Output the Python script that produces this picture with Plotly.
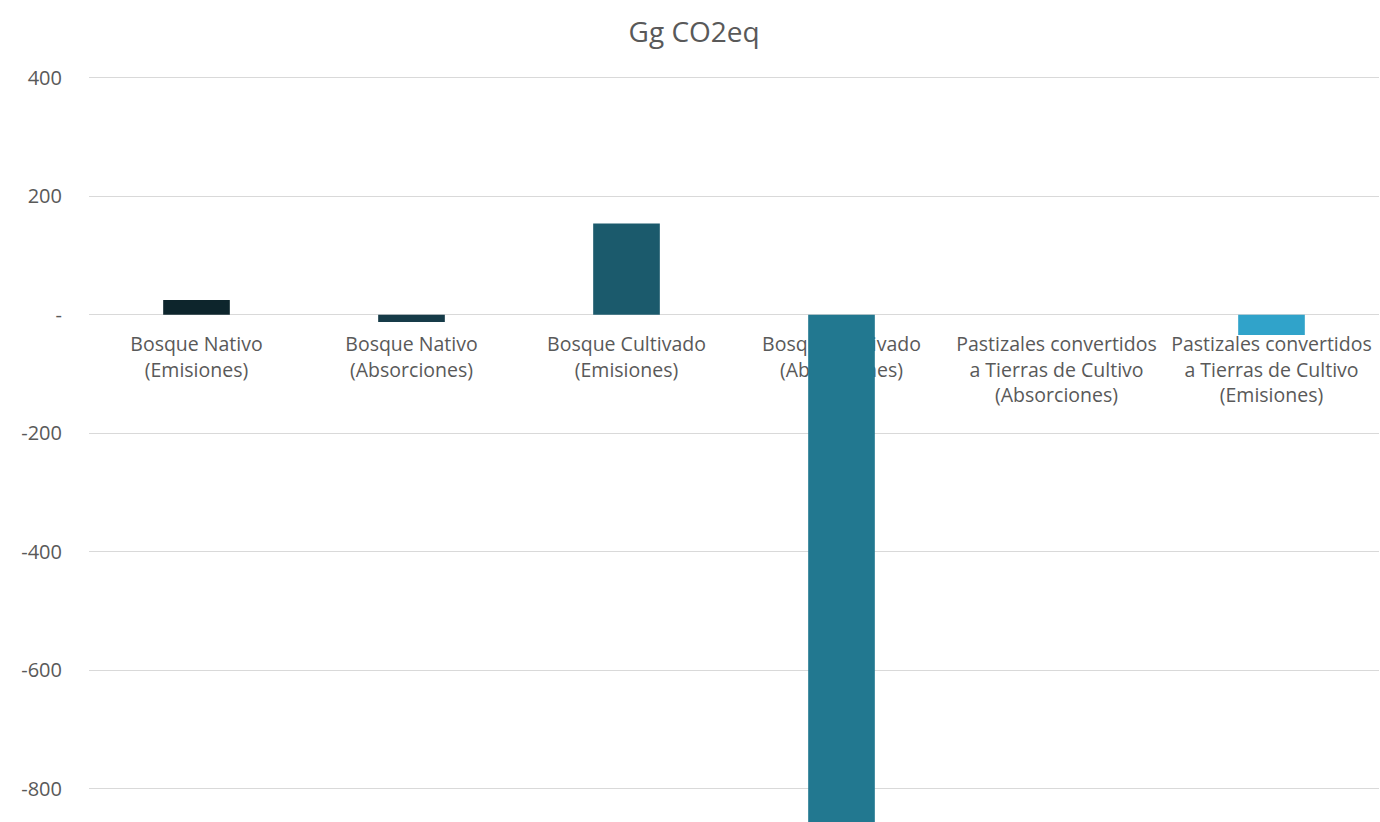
import plotly.graph_objects as go

# Categories (two/three-line labels as shown under the zero line)
categories = [
    "Bosque Nativo<br>(Emisiones)",
    "Bosque Nativo<br>(Absorciones)",
    "Bosque Cultivado<br>(Emisiones)",
    "Bosque Cultivado<br>(Absorciones)",
    "Pastizales convertidos<br>a Tierras de Cultivo<br>(Absorciones)",
    "Pastizales convertidos<br>a Tierras de Cultivo<br>(Emisiones)",
]
values = [25, -12, 154, -1100, 0, -34]
bar_colors = ["#0d252c", "#163b48", "#1b5a6c", "#227890", "#2a8fb0", "#30a3ca"]

y_tickvals = [400, 200, 0, -200, -400, -600, -800]
y_ticktext = ["400", "200", "-", "-200", "-400", "-600", "-800"]

y_min, y_max = -856, 430

fig = go.Figure(
    go.Bar(
        x=categories,
        y=values,
        marker=dict(color=bar_colors, line=dict(width=0)),
        hoverinfo="x+y",
    )
)

text_color = "#595959"
font_family = "Open Sans, Segoe UI, sans-serif"

fig.update_layout(
    width=1380,
    height=822,
    margin=dict(l=89, r=1, t=60, b=0),
    paper_bgcolor="white",
    plot_bgcolor="white",
    showlegend=False,
    bargap=0.69,
    title=dict(
        text="Gg CO2eq",
        x=0.503,
        xref="container",
        xanchor="center",
        y=0.961,
        yref="container",
        yanchor="middle",
        font=dict(family=font_family, size=28, color=text_color),
    ),
    font=dict(family=font_family, color=text_color),
)

# Category axis sits on the zero line, under the bars
zero_pos = (0 - y_min) / (y_max - y_min)
fig.update_xaxes(
    anchor="free",
    position=zero_pos,
    showline=False,
    showgrid=False,
    ticks="",
    layer="below traces",
    tickfont=dict(family=font_family, size=19.5, color=text_color),
    ticklabelstandoff=16,
)

fig.update_yaxes(
    range=[y_min, y_max],
    tickvals=y_tickvals,
    ticktext=y_ticktext,
    showgrid=True,
    gridcolor="#d9d9d9",
    gridwidth=1,
    zeroline=True,
    zerolinecolor="#d9d9d9",
    zerolinewidth=1,
    showline=False,
    ticks="",
    ticklabelstandoff=26,
    tickfont=dict(family=font_family, size=20, color=text_color),
)

fig.write_html("out.html")
